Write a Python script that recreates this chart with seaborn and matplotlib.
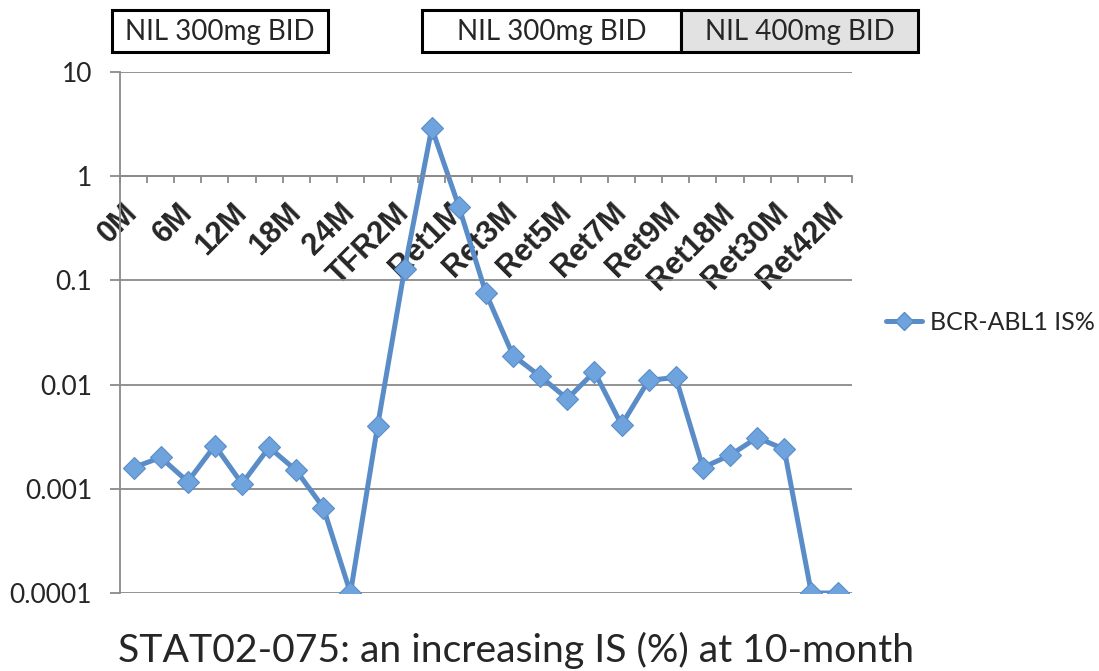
import numpy as np
import pandas as pd
import matplotlib
matplotlib.use("Agg")
import matplotlib.pyplot as plt
import seaborn as sns
from matplotlib.patches import Rectangle
from matplotlib.lines import Line2D

# ---------------- data ----------------
timepoints = ["0M", "3M", "6M", "9M", "12M", "15M", "18M", "21M", "24M",
              "TFR1M", "TFR2M", "TFR3M", "Ret1M", "Ret2M", "Ret3M", "Ret4M",
              "Ret5M", "Ret6M", "Ret7M", "Ret8M", "Ret9M", "Ret12M", "Ret18M",
              "Ret24M", "Ret30M", "Ret36M", "Ret42M"]
is_values = [0.0016, 0.0020, 0.00117, 0.0026, 0.00112, 0.0025, 0.0015, 0.00066,
             0.0001, 0.0040, 0.13, 2.9, 0.51, 0.075, 0.019, 0.012, 0.0073,
             0.0133, 0.0041, 0.011, 0.0117, 0.0016, 0.0021, 0.0031, 0.0024,
             0.0001, 0.0001]
series_name = "BCR-ABL1 IS%"
y_ticks = [0.0001, 0.001, 0.01, 0.1, 1, 10]
y_tick_labels = ["0.0001", "0.001", "0.01", "0.1", "1", "10"]
box_labels = ["NIL 300mg BID", "NIL 300mg BID", "NIL 400mg BID"]
caption = "STAT02-075: an increasing IS (%) at 10-month"

# ---------------- style ----------------
sns.set_style("white")
plt.rcParams["font.family"] = ["Lato", "DejaVu Sans"]

W, H = 1099, 671
fig = plt.figure(figsize=(W / 100, H / 100), dpi=100)
fig.patch.set_facecolor("white")

def fx(px):
    return px / W

def fy(py):
    return 1 - py / H

ax = fig.add_axes([fx(120), fy(593), fx(852) - fx(120), fy(72) - fy(593)])

df = pd.DataFrame({"pos": np.arange(len(timepoints)), "value": is_values,
                   "series": series_name})

line_col = "#5A8DC8"
sns.lineplot(data=df, x="pos", y="value", ax=ax, sort=False, color=line_col,
             lw=3.6, marker="D", markersize=11, markerfacecolor="#6FA3DD",
             markeredgecolor="#5A8DC8", markeredgewidth=0.8, legend=False)

ax.set_yscale("log")
ax.set_ylim(1e-4, 10)
ax.set_xlim(-0.5, len(timepoints) - 0.5)

grid_col = "#8A8A8A"
ax.set_yticks(y_ticks)
ax.set_yticklabels(y_tick_labels)
ax.yaxis.set_minor_locator(matplotlib.ticker.NullLocator())
ax.yaxis.grid(True, color=grid_col, lw=1.3)
ax.xaxis.grid(False)
ax.tick_params(axis="y", which="major", direction="out", length=7, width=1.3,
               color=grid_col, pad=13, labelsize=19, left=True)
for lab in ax.get_yticklabels():
    lab.set_fontfamily("Lato")

for s in ["top", "right"]:
    ax.spines[s].set_visible(False)
ax.spines["left"].set_color(grid_col)
ax.spines["left"].set_linewidth(1.3)
ax.spines["bottom"].set_position(("data", 1))
ax.spines["bottom"].set_color(grid_col)
ax.spines["bottom"].set_linewidth(1.3)

major_pos = np.arange(0, len(timepoints), 2)
ax.set_xticks(major_pos)
ax.set_xticklabels([timepoints[i] for i in major_pos])
ax.set_xticks(np.arange(len(timepoints) + 1) - 0.5, minor=True)
ax.tick_params(axis="x", which="major", length=0, pad=23, labelsize=22,
               bottom=True)
ax.tick_params(axis="x", which="minor", direction="out", length=5, width=1.3,
               color=grid_col, bottom=True)
for lab in ax.get_xticklabels():
    lab.set_rotation(45)
    lab.set_ha("right")
    lab.set_va("center")
    lab.set_rotation_mode("anchor")
    lab.set_fontweight("bold")
    lab.set_fontfamily("Liberation Sans")
ax.set_xlabel("")
ax.set_ylabel("")

# legend
handle = Line2D([], [], color=line_col, lw=3.6, marker="D", markersize=9,
                markerfacecolor="#6FA3DD", markeredgecolor="#5A8DC8")
ax.legend([handle], [series_name], loc="center left",
          bbox_to_anchor=(fx(886), fy(322)), bbox_transform=fig.transFigure,
          frameon=False, handlelength=1.45, handletextpad=0.3, borderpad=0,
          borderaxespad=0, prop={"family": "Lato", "size": 18})

# treatment boxes
boxes = [(112, 328, "white"), (422, 681, "white"), (681, 918, "#E2E2E2")]
for (x0, x1, fc), label in zip(boxes, box_labels):
    fig.add_artist(Rectangle((fx(x0), fy(52)), fx(x1) - fx(x0), fy(10) - fy(52),
                             transform=fig.transFigure, facecolor=fc,
                             edgecolor="black", lw=2.2))
    fig.text((fx(x0) + fx(x1)) / 2, fy(32), label, ha="center", va="center",
             fontsize=20, family="Lato")

fig.text(fx(118), fy(662), caption, ha="left", va="baseline", fontsize=28.2,
         family="Lato")

fig.savefig("out.png", dpi=100, facecolor="white")
